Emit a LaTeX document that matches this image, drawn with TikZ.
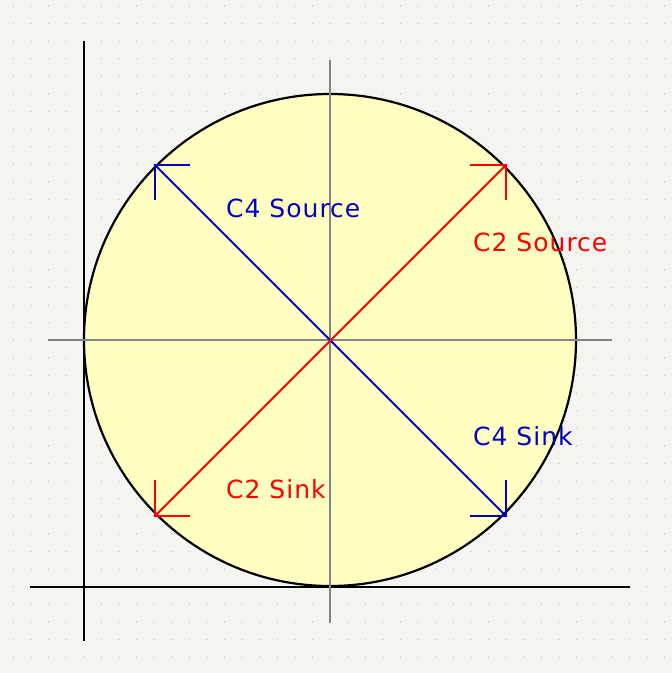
\documentclass[tikz,border=0pt]{standalone}
\usepackage{fontspec}
\setmainfont[LetterSpace=4]{DejaVu Sans}
\definecolor{bg}{HTML}{F5F4F0}
\definecolor{fillyel}{HTML}{FFFFC2}
\definecolor{kblue}{HTML}{0000C2}
\definecolor{kred}{HTML}{FF0000}
\definecolor{kgray}{HTML}{848484}
\definecolor{dotc}{HTML}{CCCCCC}
\begin{document}
\begin{tikzpicture}[x=1pt,y=-1pt,
  blk/.style={black,line width=2.6pt},
  gry/.style={kgray,line width=2pt},
  bl/.style={kblue,line width=2pt},
  rd/.style={kred,line width=2pt},
  lbl/.style={anchor=base west,inner sep=0pt,font=\fontsize{25}{25}\selectfont}]
\fill[bg] (0,0) rectangle (672,673);
\useasboundingbox (0,0) rectangle (672,673);
\foreach \i in {0,...,37}{\foreach \j in {0,...,38}{
  \fill[dotc] ({13.3+17.6*\i},{6+17.6*\j}) circle (0.8);}}
% circle
\coordinate (c) at (330,340);
\draw[black,line width=2.2pt,fill=fillyel] (c) circle (246);
% black axes
\coordinate (bv1) at (84,41); \coordinate (bv2) at (84,641);
\coordinate (bh1) at (30,587); \coordinate (bh2) at (630,587);
\draw[blk] (bv1) -- (bv2);
\draw[blk] (bh1) -- (bh2);
% gray axes
\coordinate (gv1) at (330,60); \coordinate (gv2) at (330,623);
\coordinate (gh1) at (48,340); \coordinate (gh2) at (612,340);
\draw[gry] (gv1) -- (gv2);
\draw[gry] (gh1) -- (gh2);
% diagonals
\coordinate (tl) at (155,165); \coordinate (br) at (506,516);
\coordinate (tr) at (506,165); \coordinate (bl) at (155,516);
\draw[bl] (tl) -- (br);
\draw[rd] (bl) -- (tr);
% corner marks
\draw[bl] ([xshift=35]tl) -- (tl) -- ([yshift=-35]tl);
\draw[rd] ([xshift=-36]tr) -- (tr) -- ([yshift=-35]tr);
\draw[rd] ([yshift=36]bl) -- (bl) -- ([xshift=35]bl);
\draw[bl] ([xshift=-36]br) -- (br) -- ([yshift=36]br);
% labels
\node[lbl,kblue] (l1) at (226,217) {C4 Source};
\node[lbl,kred] (l2) at (473,251) {C2 Source};
\node[lbl,kblue] (l3) at (473,445) {C4 Sink};
\node[lbl,kred] (l4) at (226,498) {C2 Sink};
\end{tikzpicture}
\end{document}
